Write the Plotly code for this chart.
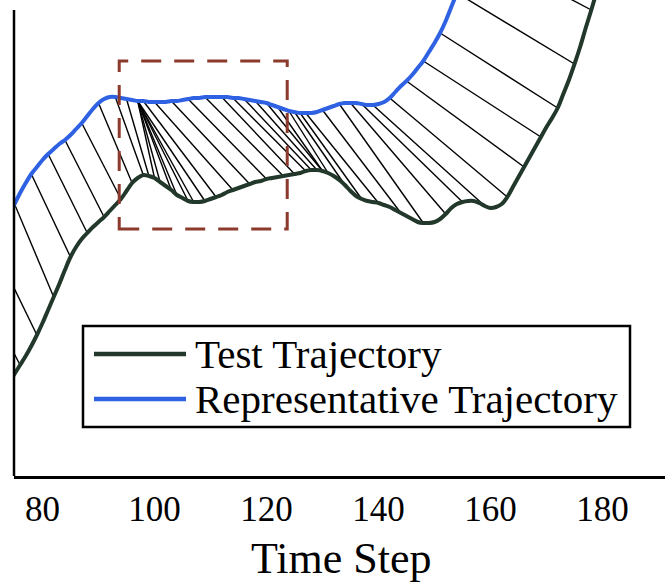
import plotly.graph_objects as go

# Representative trajectory: one value per time step, starting at REP_START
REP_START = 60
rep_values = [
    9.5, 10.8, 12.1, 13.4, 14.7, 16.0, 17.3, 18.6, 19.8, 21.0,      # 60-69
    22.2, 23.3, 24.4, 25.4, 26.2, 27.2, 28.3, 29.3, 30.2, 30.9,     # 70-79
    31.6, 32.2, 32.7, 33.2, 33.6, 34.1, 34.7, 35.3, 36.0, 36.7,     # 80-89
    37.3, 37.7, 37.9, 37.9, 37.8, 37.7, 37.6, 37.5, 37.5, 37.4,     # 90-99
    37.4, 37.4, 37.4, 37.5, 37.5, 37.6, 37.7, 37.8, 37.8, 37.9,     # 100-109
    37.9, 37.9, 37.9, 37.9, 37.8, 37.8, 37.7, 37.6, 37.5, 37.4,     # 110-119
    37.3, 37.1, 36.9, 36.7, 36.5, 36.4, 36.3, 36.3, 36.3, 36.4,     # 120-129
    36.6, 36.8, 37.0, 37.2, 37.3, 37.3, 37.3, 37.2, 37.1, 37.1,     # 130-139
    37.2, 37.4, 37.8, 38.4, 39.0, 39.5, 40.1, 40.8, 41.5, 42.4,     # 140-149
    43.3, 44.3, 45.5, 46.9, 48.3, 49.8, 51.3, 52.8, 54.3, 55.8,     # 150-159
    57.3,                                                           # 160
]

# Test trajectory: one value per time step, starting at TEST_START
TEST_START = 70
test_values = [
    5.6, 6.5, 7.4, 8.3, 9.3, 10.2, 11.1, 12.0, 13.0, 14.1,          # 70-79
    15.3, 16.6, 17.9, 19.2, 20.6, 21.9, 22.9, 23.7, 24.3, 24.9,     # 80-89
    25.4, 25.9, 26.5, 27.1, 27.7, 28.5, 29.3, 29.8, 30.1, 30.0,     # 90-99
    29.8, 29.4, 29.0, 28.6, 28.1, 27.8, 27.5, 27.4, 27.4, 27.5,     # 100-109
    27.7, 27.9, 28.1, 28.4, 28.6, 28.8, 29.0, 29.2, 29.4, 29.5,     # 110-119
    29.7, 29.8, 29.9, 30.0, 30.1, 30.2, 30.3, 30.5, 30.6, 30.6,     # 120-129
    30.5, 30.3, 30.0, 29.6, 29.1, 28.5, 28.0, 27.7, 27.5, 27.4,     # 130-139
    27.3, 27.1, 26.9, 26.6, 26.3, 26.0, 25.7, 25.4, 25.3, 25.3,     # 140-149
    25.4, 25.7, 26.2, 26.8, 27.2, 27.4, 27.5, 27.5, 27.3, 27.0,     # 150-159
    26.8, 26.9, 27.2, 27.9, 28.9, 29.9, 30.9, 31.9, 32.9, 33.9,     # 160-169
    34.9, 35.8, 36.8, 38.2, 39.6, 41.2, 42.9, 44.8, 46.6, 48.5,     # 170-179
    50.5, 52.5, 54.5,                                               # 180-182
]

# Warping path: (representative time step, test time step) pairs drawn as connectors
alignment = [
    (68, 76), (71, 79), (75, 82), (78, 85), (81, 88), (84, 91), (87, 94),
    (90, 96), (93, 98), (95, 99),
    (97, 100), (97, 101), (97, 103), (97, 104), (97, 106), (97, 107), (97, 109),
    (98, 111), (100, 114), (103, 117), (106, 120), (109, 123), (112, 125),
    (114, 127), (116, 128), (118, 129), (120, 130), (122, 130), (124, 131),
    (125, 134), (126, 137), (127, 140), (130, 144), (133, 148), (135, 152),
    (137, 155), (139, 159), (142, 163), (145, 166), (148, 169), (151, 172),
    (154, 175), (157, 178),
]

series_names = ["Test Trajectory", "Representative Trajectory"]
series_colors = ["#22382b", "#2f62e3"]
x_ticks = [80, 100, 120, 140, 160, 180]
x_title = "Time Step"

# Highlighted window (time step span and value span)
window_x = [93.7, 123.7]
window_y = [24.7, 41.5]

rep_t = list(range(REP_START, REP_START + len(rep_values)))
test_t = list(range(TEST_START, TEST_START + len(test_values)))


def rep_at(t):
    return rep_values[t - REP_START]


def test_at(t):
    return test_values[t - TEST_START]


cx, cy = [], []
for tb, tg in alignment:
    cx += [tb, tg, None]
    cy += [rep_at(tb), test_at(tg), None]

SERIF = "Liberation Serif, Times New Roman, serif"

fig = go.Figure()
fig.add_trace(go.Scatter(
    x=cx, y=cy, mode="lines", line=dict(color="black", width=1.4),
    hoverinfo="skip", showlegend=False,
))
fig.add_trace(go.Scatter(
    x=test_t, y=test_values, mode="lines", name=series_names[0],
    line=dict(color=series_colors[0], width=4, shape="spline"), showlegend=False,
))
fig.add_trace(go.Scatter(
    x=rep_t, y=rep_values, mode="lines", name=series_names[1],
    line=dict(color=series_colors[1], width=4, shape="spline"), showlegend=False,
))

W, H = 665, 585
ML, MR, MT, MB = 14, 0, 0, 109
plot_w = W - ML - MR
plot_h = H - MT - MB


def px_x(p):
    return (p - ML) / plot_w


def px_y(p):
    return (H - MB - p) / plot_h


shapes = []
# left axis line
shapes.append(dict(type="line", xref="paper", yref="paper",
                   x0=0, x1=0, y0=0, y1=px_y(10),
                   line=dict(color="black", width=2.5)))
# dashed window
shapes.append(dict(type="rect", xref="x", yref="y",
                   x0=window_x[0], x1=window_x[1], y0=window_y[0], y1=window_y[1],
                   line=dict(color="#8c3a2b", width=3, dash="20px,13px")))
# legend frame
shapes.append(dict(type="rect", xref="paper", yref="paper",
                   x0=px_x(83), x1=px_x(630), y0=px_y(427), y1=px_y(326),
                   fillcolor="white", line=dict(color="black", width=2.5),
                   layer="above"))
annotations = []
for i, (name, color) in enumerate(zip(series_names, series_colors)):
    yy = px_y(354 + 45 * i)
    shapes.append(dict(type="line", xref="paper", yref="paper",
                       x0=px_x(94), x1=px_x(186), y0=yy, y1=yy,
                       line=dict(color=color, width=4.5), layer="above"))
    annotations.append(dict(xref="paper", yref="paper", x=px_x(193), y=yy,
                            xanchor="left", yanchor="middle", text=name,
                            showarrow=False,
                            font=dict(family=SERIF, size=41, color="black")))

annotations.append(dict(xref="paper", yref="paper", x=px_x(341), y=px_y(558),
                        xanchor="center", yanchor="middle", text=x_title,
                        showarrow=False, borderpad=0,
                        font=dict(family=SERIF, size=44, color="black")))

fig.update_layout(
    width=W, height=H,
    margin=dict(l=ML, r=MR, t=MT, b=MB, pad=0),
    paper_bgcolor="white", plot_bgcolor="white",
    showlegend=False,
    shapes=shapes, annotations=annotations,
    xaxis=dict(range=[74.91, 191.16], tickvals=x_ticks, ticks="",
               showgrid=False, zeroline=False, showline=True,
               linecolor="black", linewidth=2.5,
               tickfont=dict(family=SERIF, size=35, color="black")),
    yaxis=dict(range=[0, 47.6], visible=False),
)

fig.write_html("out.html")
